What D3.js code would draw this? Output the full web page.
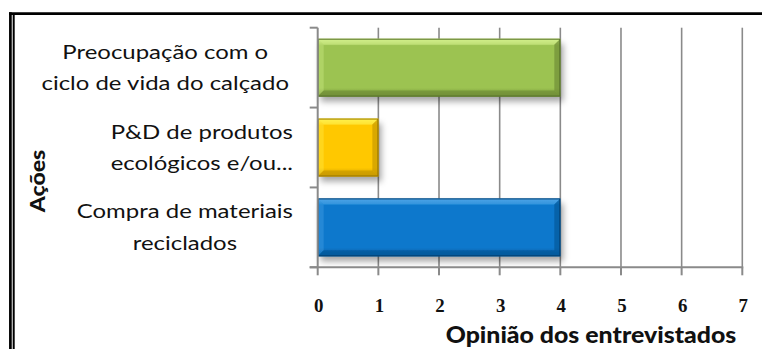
<!DOCTYPE html>
<html><head><meta charset="utf-8">
<script src="https://cdn.jsdelivr.net/npm/d3@7"></script>
<style>body{margin:0;background:#fff}svg{display:block}</style>
</head><body>
<svg id="c" width="762" height="349"></svg>
<script>
const categories = [
  ["Preocupação com o", "ciclo de vida do calçado"],
  ["P&D de produtos", "ecológicos e/ou..."],
  ["Compra de materiais", "reciclados"]
];
const values = [4, 1, 4];
const xTicks = [0, 1, 2, 3, 4, 5, 6, 7];
const xTitle = "Opinião dos entrevistados";
const yTitle = "Ações";
const palettes = [
  {light:"#d4f08c", body:"#9cc351", dark:"#708f37", edge:"#56702a"},
  {light:"#fff250", body:"#ffc800", dark:"#c99a00", edge:"#9a7800"},
  {light:"#4fa6e8", body:"#0878cc", dark:"#04589a", edge:"#033f70"}
];

const svg = d3.select("#c");
const L = 317.7, R = 742.3, T = 27.7, B = 267.3;
const x = d3.scaleLinear().domain([0, 7]).range([L, R]);
const y = d3.scaleBand().domain(categories.map((d,i)=>i)).range([T, B]).paddingInner(0.275).paddingOuter(0.1375);
const yb = d3.scaleBand().domain(categories.map((d,i)=>i)).range([T, B]);

const defs = svg.append("defs");
const f = defs.append("filter").attr("id","sh").attr("x","-10%").attr("y","-20%").attr("width","130%").attr("height","160%");
f.append("feDropShadow").attr("dx",3).attr("dy",5).attr("stdDeviation",3).attr("flood-color","#000").attr("flood-opacity",0.35);
palettes.forEach((p,i)=>{
  const g = defs.append("linearGradient").attr("id","g"+i).attr("x1",0).attr("y1",0).attr("x2",0).attr("y2",1);
  g.append("stop").attr("offset","0").attr("stop-color",p.light);
  g.append("stop").attr("offset","0.12").attr("stop-color",p.body);
  g.append("stop").attr("offset","0.85").attr("stop-color",p.body);
  g.append("stop").attr("offset","1").attr("stop-color",p.dark);
});

// border
svg.append("line").attr("x1",9).attr("x2",762).attr("y1",13.6).attr("y2",13.6).attr("stroke","#000").attr("stroke-width",2.8);
svg.append("line").attr("x1",10.4).attr("x2",10.4).attr("y1",12.3).attr("y2",349).attr("stroke","#000").attr("stroke-width",2.7);
svg.append("line").attr("x1",13.7).attr("x2",13.7).attr("y1",15).attr("y2",349).attr("stroke","#000").attr("stroke-width",2);

// gridlines
svg.append("g").selectAll("line").data(xTicks.slice(1)).join("line")
  .attr("x1",d=>x(d)).attr("x2",d=>x(d)).attr("y1",T).attr("y2",B)
  .attr("stroke","#8a8a8a").attr("stroke-width",1.6);

// bars
const bars = svg.append("g");
values.forEach((v,i)=>{
  const p = palettes[i];
  const x0 = x(0), x1 = x(v), y0 = y(i), y1 = y(i)+y.bandwidth();
  const b = 6;
  const g = bars.append("g");
  g.append("rect").attr("x",x0).attr("y",y0).attr("width",x1-x0).attr("height",y1-y0)
    .attr("fill","url(#g"+i+")").attr("filter","url(#sh)");
  g.append("path").attr("d",`M${x0},${y0}L${x1},${y0}L${x1-b},${y0+b}L${x0+b},${y0+b}Z`).attr("fill",p.light).attr("opacity",0.55);
  g.append("path").attr("d",`M${x0},${y0}L${x0+b},${y0+b}L${x0+b},${y1-b}L${x0},${y1}Z`).attr("fill",p.light).attr("opacity",0.35);
  g.append("path").attr("d",`M${x0},${y1}L${x0+b},${y1-b}L${x1-b},${y1-b}L${x1},${y1}Z`).attr("fill",p.dark).attr("opacity",0.7);
  g.append("path").attr("d",`M${x1},${y0}L${x1},${y1}L${x1-b},${y1-b}L${x1-b},${y0+b}Z`).attr("fill",p.dark).attr("opacity",0.7);
  g.append("rect").attr("x",x0+0.5).attr("y",y0+0.5).attr("width",x1-x0-1).attr("height",y1-y0-1)
    .attr("fill","none").attr("stroke",p.edge).attr("stroke-width",1);
});

// axes
const ax = svg.append("g").attr("stroke","#8a8a8a").attr("stroke-width",2);
ax.append("line").attr("x1",x(0)).attr("x2",x(0)).attr("y1",T).attr("y2",B);
ax.append("line").attr("x1",x(0)-8).attr("x2",R+1).attr("y1",B).attr("y2",B);
ax.selectAll(".yt").data(d3.range(categories.length+1)).join("line")
  .attr("x1",x(0)-8).attr("x2",x(0)).attr("y1",d=>T+d*yb.step()).attr("y2",d=>T+d*yb.step());
ax.selectAll(".xt").data(xTicks).join("line")
  .attr("x1",d=>x(d)).attr("x2",d=>x(d)).attr("y1",B).attr("y2",B+8);

// x tick labels
svg.append("g").selectAll("text").data(xTicks).join("text")
  .attr("transform",d=>`translate(${x(d)+1},312) scale(1.05,1)`).attr("text-anchor","middle")
  .attr("font-family","Liberation Serif").attr("font-weight","bold").attr("font-size",18)
  .attr("fill","#111").text(d=>d);

// x title
svg.append("text").attr("transform","translate(591,343) scale(1.13,1)").attr("text-anchor","middle")
  .attr("font-family","Lato").attr("font-weight","900").attr("font-size",22).attr("fill","#111").text(xTitle);

// y title
svg.append("text").attr("transform","translate(45,181) rotate(-90) scale(1.15,1)").attr("text-anchor","middle")
  .attr("font-family","Lato").attr("font-weight","900").attr("font-size",20).attr("fill","#111").text(yTitle);

// category labels
const rightEdges = [289, 293, 293], sx = 1.26;
categories.forEach((lines,i)=>{
  const g = svg.append("g");
  const ts = lines.map((ln,j)=> g.append("text")
    .attr("text-anchor","middle").attr("font-family","Lato").attr("font-size",19).attr("fill","#111").text(ln));
  const w = d3.max(ts, t=>t.node().getComputedTextLength()) * sx;
  ts.forEach((t,j)=>t.attr("transform",`translate(${rightEdges[i] - w/2},${yb(i)+yb.bandwidth()/2 - 9 + j*31.5}) scale(${sx},1)`));
});
</script>
</body></html>
